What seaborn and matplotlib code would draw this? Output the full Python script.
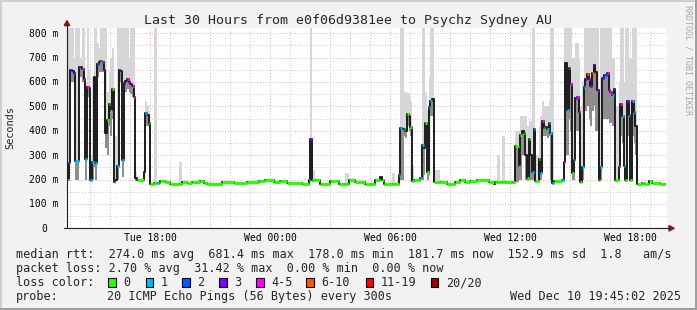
import numpy as np
import pandas as pd
import matplotlib
matplotlib.use("Agg")
import matplotlib.pyplot as plt
import matplotlib.transforms as mtransforms
from matplotlib.patches import Rectangle, Polygon
from matplotlib.lines import Line2D
import seaborn as sns

N = None
# ---------------- data (minutes since Tue 13:50) ----------------
t_min = [
    0, 5, 10, 15, 20, 25, 35, 40, 45, 50, 55, 60, 65, 70, 75, 80, 85, 90, 95, 100,
    105, 110, 115, 120, 125, 130, 135, 140, 145, 150, 155, 160, 165, 170, 175, 180, 185, 190, 195, 200,
    205, 210, 230, 235, 240, 245,
    250, 260, 270, 275, 280, 295, 310, 335, 345, 360, 375, 400, 410, 420, 465, 500, 540, 575, 595, 620,
    640, 660, 705, 725, 730, 735, 745, 760, 790, 815, 835, 845, 865, 895, 925, 940, 945, 950, 975, 985,
    995,
    1000, 1005, 1010, 1015, 1020, 1025, 1030, 1035, 1040, 1060, 1065, 1070, 1075, 1080, 1085, 1090, 1095,
    1100, 1120, 1140, 1165, 1180, 1195, 1210, 1230, 1265, 1280, 1285, 1290, 1300, 1305, 1315, 1335,
    1345, 1355, 1360, 1365, 1370, 1375, 1380, 1385, 1390, 1395, 1400, 1405, 1415, 1420, 1425, 1430, 1435, 1440, 1445, 1450,
    1455, 1460, 1485, 1490, 1495, 1500, 1505, 1510, 1515, 1520, 1525, 1530, 1535, 1540, 1545, 1550, 1555, 1560, 1565, 1570,
    1575, 1580, 1585, 1590, 1595, 1600, 1605, 1610, 1615, 1620, 1625, 1630, 1635, 1640, 1645, 1655, 1660, 1665, 1670, 1675,
    1680, 1685, 1690, 1695, 1700, 1705,
    1710, 1725, 1730, 1745, 1755, 1780,
]
median_ms = [
    205, 266, 648, 645, 638, 276, 662, 660, 651, 610, 283, 580, 575, 200, 270, 620, 268, 672, 680, 686,
    683, 649, 392, 444, 508, 480, 570, 190, 200, 255, 650, 645, 280, 594, 605, 613, 600, 590, 583, 540,
    205, 198, 230, 471, 465, 432,
    182, 184, 186, 184, 195, 191, 180, 182, 191, 186, 191, 195, 184, 180, 191, 184, 191, 195, 198, 191,
    195, 184, 182, 199, 367, 200, 198, 180, 193, 182, 182, 196, 190, 183, 200, 210, 200, 183, 183, 183,
    218,
    412, 405, 408, 400, 468, 460, 415, 195, 198, 208, 340, 330, 432, 231, 498, 520, 530,
    190, 188, 180, 190, 197, 188, 193, 197, 190, 183, 188, 188, 188, 188, 188, 190,
    337, 255, 384, 400, 389, 300, 207, 368, 300, 232, 408, 194, 285, 228, 440, 410, 415, 406, 432, 389,
    184, 193, 200, 272, 676, 485, 655, 590, 226, 280, 535, 538, 478, 190, 252, 580, 613, 631, 612, 583,
    638, 669, 640, 565, 199, 252, 615, 628, 630, 637, 565, 560, 545, 570, 200, 252, 508, 460, 256, 197,
    522, 464, 200, 522, 477, 420,
    180, 187, 180, 193, 187, 180,
]
# loss class index per sample (None = no colour mark visible)
loss_idx = [
    N, 1, 3, N, 2, 1, 2, N, 4, 4, 1, 4, N, 1, 1, N, 1, 2, N, 5,
    2, 3, N, 0, 0, 0, 0, 0, N, 1, 3, N, 1, 3, N, 4, 3, N, 4, 4,
    N, 0, N, 1, N, 0,
    0, 0, 1, 0, 0, 0, 0, 0, 0, 0, 0, 0, 0, 0, 0, 0, 0, 0, 0, 0,
    0, 0, 0, 1, 3, 0, 0, 0, 0, 0, 0, 0, 0, 0, 0, N, 0, 0, 0, 0,
    1,
    1, N, 0, N, 0, N, 0, 0, 0, 1, 1, N, 0, 0, 1, 1, N,
    0, 0, 0, 0, 0, 0, 0, 0, 0, N, 0, 0, 0, 0, 0, 0,
    0, 0, 0, N, 0, N, 0, 0, N, 1, 1, 0, 0, 1, 4, 0, N, 1, 1, 1,
    1, 0, 1, 4, N, 1, 5, 4, 0, 1, 3, 4, 4, 0, 1, 1, 3, 5, 4, 3,
    5, 3, N, 3, 0, 1, 3, 2, 2, 4, 4, 4, 1, 2, 0, 1, 4, 1, 1, 0,
    3, 1, 0, 1, 1, N,
    0, 0, 0, 0, 0, 0,
]
smoke_lo = [
    195, 195, 600, 600, 580, 200, 620, 620, 600, 560, 200, 540, 540, 195, 200, 250, 200, 620, 640, 640,
    640, 600, 330, 300, 420, 380, 450, 185, 190, 200, 600, 600, 210, 540, 560, 570, 560, 550, 540, 500,
    195, N, 200, 420, 420, 400,
    N, 180, N, N, N, N, N, 180, N, N, N, N, N, N, N, N, N, N, N, N,
    N, N, N, N, 195, 190, N, N, N, N, 180, N, N, N, N, N, N, N, 180, N,
    190,
    200, 200, 380, 370, 420, 400, 380, 190, N, N, 200, 220, 400, 200, 220, 460, 460,
    185, N, N, N, N, N, N, N, N, N, N, 185, N, 185, N, N,
    190, 200, 200, 300, 300, 200, 195, 200, 200, 200, 200, 190, 200, 200, 380, 380, 380, 370, 380, 200,
    180, N, N, 200, 300, 300, 450, 400, 200, 200, 400, 400, 300, 185, 200, 380, 480, 500, 450, 420,
    480, 500, 400, 400, 190, 200, 450, 450, 450, 450, 430, 430, 420, 420, 190, 200, 380, 350, 200, 190,
    380, 300, 190, 380, 350, 300,
    N, N, N, N, N, N,
]
smoke_hi = [
    820, 820, 820, 820, 700, 820, 820, 700, 820, 820, 600, 820, 650, 300, 620, 820, 820, 760, 740, 820,
    820, 820, 820, 560, 640, 700, 740, 420, 380, 820, 820, 820, 820, 820, 820, 820, 700, 820, 820, 820,
    230, N, 250, 520, 500, 480,
    N, 820, N, N, N, N, N, 270, N, N, N, N, N, N, N, N, N, N, N, N,
    N, N, N, N, 820, 240, N, N, N, N, 228, N, N, N, N, N, N, N, 225, N,
    260,
    820, 820, 560, 560, 556, 556, 520, 260, N, N, 820, 820, 560, 480, 620, 820, 820,
    240, N, N, N, N, N, N, N, N, N, N, 302, N, 378, N, N,
    400, 400, 460, 460, 460, 460, 420, 440, 440, 820, 820, 300, 420, 460, 520, 500, 500, 500, 520, 820,
    820, N, N, 820, 820, 820, 820, 820, 700, 700, 760, 760, 700, 500, 600, 820, 820, 820, 820, 820,
    820, 820, 820, 820, 500, 820, 820, 820, 820, 820, 820, 820, 700, 700, 500, 600, 820, 820, 600, 820,
    820, 700, 700, 820, 820, 820,
    N, N, N, N, N, N,
]
END_MIN = 1795

loss_labels = ["0", "1", "2", "3", "4-5", "6-10", "11-19", "20/20"]
loss_colors = ["#26ff00", "#00b8ff", "#0059ff", "#7e00ff", "#ff00ff", "#ff5500", "#ff0000", "#a10000"]

x_tick_min = [250, 610, 970, 1330, 1690]
x_tick_labels = ["Tue 18:00", "Wed 00:00", "Wed 06:00", "Wed 12:00", "Wed 18:00"]
y_tick_ms = [0, 100, 200, 300, 400, 500, 600, 700, 800]
y_tick_labels = ["0", "100 m", "200 m", "300 m", "400 m", "500 m", "600 m", "700 m", "800 m"]

title = "Last 30 Hours from e0f06d9381ee to Psychz Sydney AU"
line_rtt = "median rtt:  274.0 ms avg  681.4 ms max  178.0 ms min  181.7 ms now  152.9 ms sd  1.8   am/s"
line_loss = "packet loss: 2.70 % avg  31.42 % max  0.00 % min  0.00 % now"
probe_label = "probe:"
probe_text = "20 ICMP Echo Pings (56 Bytes) every 300s"
stamp = "Wed Dec 10 19:45:02 2025"

n = len(t_min)
assert all(len(a) == n for a in (median_ms, loss_idx, smoke_lo, smoke_hi))

# ---------------- figure ----------------
sns.set_theme(style="white")
plt.rcParams['font.family'] = ['DejaVu Sans Mono']

W, H = 697, 310
fig = plt.figure(figsize=(W / 100, H / 100), dpi=100, facecolor='#f2f2f2')


def fx(x):
    return x / W


def fy(y):
    return 1 - y / H


PL, PR, PT, PB = 67, 667, 28, 228.3
ax = fig.add_axes([fx(PL), fy(PB), (PR - PL) / W, (PB - PT) / H])
ax.set_facecolor('white')
ax.set_xlim(0, 1800)
ax.set_ylim(0, 821)

# grid (dotted, light)
dot = (0, (1, 2))
minor_c = '#c6c6c6'
major_c = '#efa8a8'
for m in range(10, 1800, 60):
    if (m - 70) % 180 == 0:
        continue
    ax.axvline(m, color=minor_c, lw=0.7, ls=dot, zorder=0.5)
for v in range(50, 821, 100):
    ax.axhline(v, color=minor_c, lw=0.7, ls=dot, zorder=0.5)
for m in range(70, 1800, 180):
    ax.axvline(m, color=major_c, lw=0.7, ls=dot, zorder=0.6)
for v in range(100, 801, 100):
    ax.axhline(v, color=major_c, lw=0.7, ls=dot, zorder=0.6)

# smoke: light grey over the full ping spread, darker from the lowest ping up to the median
t_next = t_min[1:] + [END_MIN]
sm = [(t0, t1 - t0, lo, hi, med) for t0, t1, lo, hi, med in
      zip(t_min, t_next, smoke_lo, smoke_hi, median_ms) if lo is not None]
ax.bar([s[0] for s in sm], [s[3] - s[2] for s in sm], bottom=[s[2] for s in sm],
       width=[s[1] for s in sm], align='edge', color='#d6d6d6', linewidth=0, zorder=1)
core = [s for s in sm if s[4] > s[2]]
ax.bar([s[0] for s in core], [s[4] - s[2] for s in core], bottom=[s[2] for s in core],
       width=[s[1] for s in core], align='edge', color='#8e8e8e', linewidth=0, zorder=1.5)

# median step line
step_df = pd.DataFrame({'t': t_min + [END_MIN], 'ms': median_ms + [median_ms[-1]]})
sns.lineplot(data=step_df, x='t', y='ms', drawstyle='steps-post', color='#1c1c1c', lw=1.4,
             estimator=None, sort=False, ax=ax, zorder=3)

# loss coloured marks
segs = [(v, t0, t1, loss_colors[li]) for v, t0, t1, li in zip(median_ms, t_min, t_next, loss_idx) if li is not None]
ax.hlines([s[0] for s in segs], [s[1] for s in segs], [s[2] for s in segs],
          colors=[s[3] for s in segs], lw=2.2, zorder=4, capstyle='butt')

ax.set_xlabel('')
ax.set_ylabel('')
ax.set_xticks([])
ax.set_yticks([])
for s in ax.spines.values():
    s.set_visible(False)

# axes lines and arrows
fig.add_artist(Line2D([fx(67), fx(67)], [fy(PB), fy(24)], color='#1f1f1f', lw=0.8))
fig.add_artist(Line2D([fx(64), fx(670)], [fy(PB), fy(PB)], color='#1f1f1f', lw=0.8))
fig.add_artist(Polygon([[fx(64.2), fy(25.6)], [fx(69.8), fy(25.6)], [fx(67), fy(20.6)]],
                       closed=True, color='#801f1f', transform=fig.transFigure))
fig.add_artist(Polygon([[fx(669), fy(225.5)], [fx(669), fy(231.1)], [fx(674.2), fy(228.3)]],
                       closed=True, color='#801f1f', transform=fig.transFigure))

# tick labels
off_y = mtransforms.ScaledTranslation(0, -3.5 / 100, fig.dpi_scale_trans)
trans_y = mtransforms.blended_transform_factory(fig.transFigure, ax.transData) + off_y
for v, lab in zip(y_tick_ms, y_tick_labels):
    xr = 58.5 if lab != "0" else 46.8
    ax.text(fx(xr), v, lab, transform=trans_y, ha='right', va='baseline', fontsize=7, color='black')
trans_x = mtransforms.blended_transform_factory(ax.transData, fig.transFigure)
for m, lab in zip(x_tick_min, x_tick_labels):
    ax.text(m, fy(240.6), lab, transform=trans_x, ha='center', va='baseline', fontsize=7, color='black')

fig.text(fx(10.5), fy(128), "Seconds", rotation=90, ha='center', va='center', fontsize=7.4)
fig.text(fx(348.5), fy(24), title, ha='center', va='baseline', fontsize=9.5)
fig.text(fx(688), fy(60), "RRDTOOL / TOBI OETIKER", rotation=270, ha='center', va='center',
         fontsize=6, color='#a8a8a8')

# legend block
FS = 8.5
fig.text(fx(16), fy(258), line_rtt, ha='left', va='baseline', fontsize=FS)
fig.text(fx(16), fy(272), line_loss, ha='left', va='baseline', fontsize=FS)
fig.text(fx(16), fy(286), "loss color:", ha='left', va='baseline', fontsize=FS)
box_x = [108.3, 145.7, 182.3, 219.3, 256.0, 306.0, 365.7, 430.7]
for bx, lab, col in zip(box_x, loss_labels, loss_colors):
    fig.add_artist(Rectangle((fx(bx), fy(286.7)), 7.7 / W, 8.4 / H, facecolor=col, edgecolor='black',
                             lw=0.8, transform=fig.transFigure))
    fig.text(fx(bx + 15), fy(286), lab, ha='left', va='baseline', fontsize=FS)
fig.text(fx(16), fy(299.7), probe_label, ha='left', va='baseline', fontsize=FS)
fig.text(fx(107.3), fy(299.7), probe_text, ha='left', va='baseline', fontsize=FS)
fig.text(fx(680.5), fy(299.7), stamp, ha='right', va='baseline', fontsize=FS)

# 3D border
fig.add_artist(Rectangle((0, 0), 2 / W, 1, facecolor='#cfcfcf', lw=0, transform=fig.transFigure))
fig.add_artist(Rectangle((0, 1 - 2 / H), 1, 2 / H, facecolor='#cfcfcf', lw=0, transform=fig.transFigure))
fig.add_artist(Rectangle((1 - 2 / W, 0), 2 / W, 1, facecolor='#9e9e9e', lw=0, transform=fig.transFigure))
fig.add_artist(Rectangle((0, 0), 1, 2 / H, facecolor='#9e9e9e', lw=0, transform=fig.transFigure))

fig.savefig("out.png", dpi=100, facecolor=fig.get_facecolor())
